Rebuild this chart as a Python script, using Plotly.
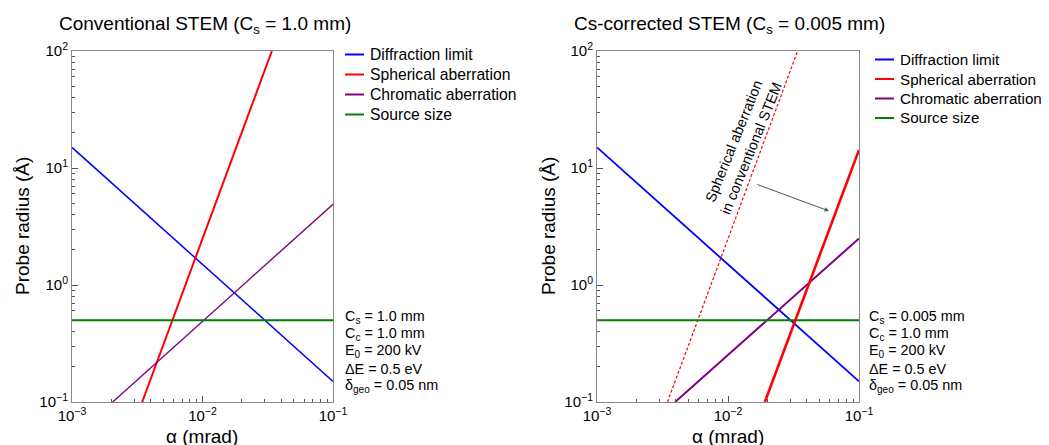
import plotly.graph_objects as go

W, H = 1049, 445
OFF = 8  # the page body adds an 8 px margin around the figure
FONT = "Liberation Sans, Arial, sans-serif"

# ---------------- data ----------------
alpha_limits = [1e-3, 1e-1]          # mrad, full axis span
diffraction_r = [15.0, 0.15]         # Å at alpha_limits
source_r = [0.5, 0.5]                # Å

# conventional STEM (Cs = 1.0 mm)
sph_conv_alpha = [3.45e-3, 0.034]
sph_conv_r = [0.1, 100.0]
chrom_conv_alpha = [2.05e-3, 0.1]
chrom_conv_r = [0.1, 4.9]

# Cs-corrected STEM (Cs = 0.005 mm)
sph_corr_alpha = [0.0191, 0.1]
sph_corr_r = [0.1, 14.3]
chrom_corr_alpha = [3.95e-3, 0.1]
chrom_corr_r = [0.1, 2.5]

legend_labels = ["Diffraction limit", "Spherical aberration", "Chromatic aberration", "Source size"]
legend_colors = ["blue", "red", "purple", "green"]

x_tickvals = [1e-3, 1e-2, 1e-1]
x_ticktext = ["10<sup>−3</sup>", "10<sup>−2</sup>", "10<sup>−1</sup>"]
y_tickvals = [0.1, 1, 10, 100]
y_ticktext = ["10<sup>−1</sup>", "10<sup>0</sup>", "10<sup>1</sup>", "10<sup>2</sup>"]

params_left = ["C<sub>s</sub> = 1.0 mm", "C<sub>c</sub> = 1.0 mm", "E<sub>0</sub> = 200 kV",
               "ΔE = 0.5 eV", "δ<sub>geo</sub> = 0.05 nm"]
params_right = ["C<sub>s</sub> = 0.005 mm", "C<sub>c</sub> = 1.0 mm", "E<sub>0</sub> = 200 kV",
                "ΔE = 0.5 eV", "δ<sub>geo</sub> = 0.05 nm"]

# ---------------- figure ----------------
def px_x(p):
    return (p - OFF) / W

def px_y(p):
    return 1 - (p - OFF) / H

fig = go.Figure()

def add(x, y, color, width, xa, ya, name, dash="solid"):
    fig.add_trace(go.Scatter(x=x, y=y, mode="lines", name=name, showlegend=False,
                             line=dict(color=color, width=width, dash=dash),
                             xaxis=xa, yaxis=ya, hoverinfo="skip"))

# left panel
add(alpha_limits, diffraction_r, "blue", 1.5, "x", "y", "Diffraction limit")
add(sph_conv_alpha, sph_conv_r, "red", 2, "x", "y", "Spherical aberration")
add(chrom_conv_alpha, chrom_conv_r, "purple", 1.4, "x", "y", "Chromatic aberration")
add(alpha_limits, source_r, "green", 2, "x", "y", "Source size")

# right panel
add(sph_conv_alpha, sph_conv_r, "red", 1.2, "x2", "y2", "Spherical aberration (conventional)", dash="3px,2px")
add(alpha_limits, diffraction_r, "blue", 1.8, "x2", "y2", "Diffraction limit")
add(chrom_corr_alpha, chrom_corr_r, "purple", 2, "x2", "y2", "Chromatic aberration")
add(alpha_limits, source_r, "green", 2, "x2", "y2", "Source size")
add(sph_corr_alpha, sph_corr_r, "red", 2.6, "x2", "y2", "Spherical aberration")

ydom = [px_y(402), px_y(51)]

def common(dom, vals, txt):
    return dict(type="log", domain=dom, tickmode="array",
                tickvals=vals, ticktext=txt, ticks="inside", ticklen=6,
                tickcolor="#555", linecolor="#888", linewidth=1, mirror=True,
                showgrid=False, zeroline=False,
                tickfont=dict(size=15, color="black", family=FONT),
                minor=dict(ticks="inside", ticklen=3, dtick="D1", tickcolor="#555", showgrid=False))

def xaxis(x0, x1, anchor):
    d = common([px_x(x0), px_x(x1)], x_tickvals, x_ticktext)
    d.update(range=[-3, -1], anchor=anchor)
    return d

def yaxis(anchor):
    d = common(ydom, y_tickvals, y_ticktext)
    d.update(range=[-1, 2], anchor=anchor)
    return d

fig.update_layout(
    width=W, height=H, margin=dict(l=0, r=0, t=0, b=0, autoexpand=False),
    paper_bgcolor="white", plot_bgcolor="white",
    font=dict(family=FONT, color="black"),
    xaxis=xaxis(72, 333, "y"), yaxis=yaxis("x"),
    xaxis2=xaxis(597, 859, "y2"), yaxis2=yaxis("x2"),
    showlegend=False,
)

ann = []
shapes = []

def text(x, y, t, size, xanchor="left", yanchor="middle", angle=0):
    ann.append(dict(x=px_x(x), y=px_y(y), xref="paper", yref="paper", text=t, showarrow=False,
                    xanchor=xanchor, yanchor=yanchor, textangle=angle,
                    font=dict(size=size, family=FONT, color="black")))

# titles
text(57, 25, "Conventional STEM (C<sub>s</sub> = 1.0 mm)", 19)
text(572, 25, "Cs-corrected STEM (C<sub>s</sub> = 0.005 mm)", 19)
# axis titles
text(22, 226, "Probe radius (Å)", 19, xanchor="center", angle=-90)
text(548, 226, "Probe radius (Å)", 19, xanchor="center", angle=-90)
text(202, 436, "α (mrad)", 19, xanchor="center")
text(728, 436, "α (mrad)", 19, xanchor="center")

# legends
def legend(x0, rows, size):
    for lab, col, ry in zip(legend_labels, legend_colors, rows):
        shapes.append(dict(type="line", xref="paper", yref="paper",
                           x0=px_x(x0), x1=px_x(x0 + 19), y0=px_y(ry), y1=px_y(ry),
                           line=dict(color=col, width=2)))
        text(x0 + 23, ry, lab, size)

legend(345, [54.5, 74.5, 94.5, 114.5], 15.7)
legend(875, [59.5, 79, 98.5, 118], 15.2)

# parameter blocks
for i, t in enumerate(params_left):
    text(343, 316.5 + 17.4 * i, t, 14.4)
for i, t in enumerate(params_right):
    text(867, 316.5 + 17.4 * i, t, 14.4)

# rotated label along dashed line
ann.append(dict(x=px_x(742), y=px_y(145), xref="paper", yref="paper",
                text="Spherical aberration<br>in conventional STEM", showarrow=False,
                textangle=-68, xanchor="center", yanchor="middle",
                font=dict(size=14.5, family=FONT, color="black")))
# arrow
ann.append(dict(x=px_x(829), y=px_y(211), xref="paper", yref="paper", text="",
                showarrow=True, ax=756 - 829, ay=184 - 211, arrowhead=2, arrowsize=0.9,
                arrowwidth=1, arrowcolor="#555"))

fig.update_layout(annotations=ann, shapes=shapes)

fig.write_html("out.html")
